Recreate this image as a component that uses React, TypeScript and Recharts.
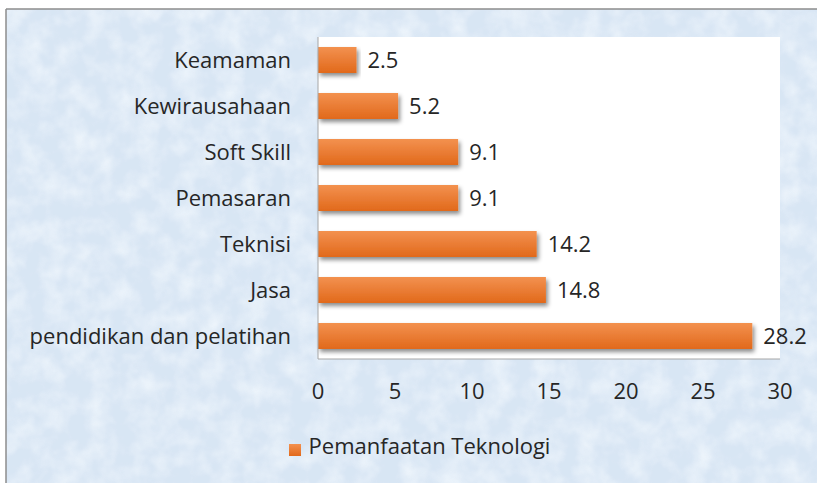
import { Bar, BarChart, CartesianGrid, LabelList, Legend, XAxis, YAxis } from "recharts";

const categories = [
  "Keamaman",
  "Kewirausahaan",
  "Soft Skill",
  "Pemasaran",
  "Teknisi",
  "Jasa",
  "pendidikan dan pelatihan",
];
const values = [2.5, 5.2, 9.1, 9.1, 14.2, 14.8, 28.2];
const xTicks = [0, 5, 10, 15, 20, 25, 30];
const seriesName = "Pemanfaatan Teknologi";

const data = categories.map((name, i) => ({ name, value: values[i] }));

const FONT = "'Open Sans', sans-serif";
const TEXT = "#262626";
const FS = 22;

export default function App() {
  return (
    <div style={{ position: "absolute", left: 0, top: 0, width: 817, height: 483, overflow: "hidden", fontFamily: FONT }}>
      <svg width={817} height={483} style={{ position: "absolute", left: 0, top: 0 }}>
        <defs>
          <filter id="paper" x="0" y="0" width="100%" height="100%">
            <feTurbulence type="fractalNoise" baseFrequency="0.045" numOctaves="3" seed="4" />
            <feColorMatrix
              type="matrix"
              values="0 0 0 0 0.88  0 0 0 0 0.93  0 0 0 0 0.98  0 0 0 -1.6 1.05"
            />
          </filter>
        </defs>
        <rect x={0} y={0} width={817} height={483} fill="#fff" />
        <rect x={6} y={9} width={830} height={490} fill="#d8e6f4" />
        <rect x={6} y={9} width={830} height={490} filter="url(#paper)" opacity={0.9} />
        <line x1={6} y1={9} x2={817} y2={9} stroke="#8c8c8c" strokeWidth={1.5} />
        <line x1={6} y1={9} x2={6} y2={483} stroke="#8c8c8c" strokeWidth={1.5} />
      </svg>
      <div style={{ position: "absolute", left: 0, top: 0 }}>
        <BarChart
          width={817}
          height={483}
          data={data}
          layout="vertical"
          margin={{ top: 37, right: 37, bottom: 40, left: 0 }}
          barSize={26}
        >
          <defs>
            <linearGradient id="barFill" x1="0" y1="0" x2="0" y2="1">
              <stop offset="0%" stopColor="#f3914f" />
              <stop offset="100%" stopColor="#e1691b" />
            </linearGradient>
            <filter id="barShadow" x="-5%" y="-30%" width="115%" height="180%">
              <feDropShadow dx={2} dy={3} stdDeviation={2} floodColor="#000" floodOpacity={0.45} />
            </filter>
          </defs>
          <CartesianGrid fill="#ffffff" horizontal={false} vertical={false} />
          <XAxis
            type="number"
            domain={[0, 30]}
            ticks={xTicks}
            tickLine={false}
            axisLine={{ stroke: "#a6a6a6" }}
            tick={{ fill: TEXT, fontSize: FS, fontFamily: FONT }}
            tickMargin={18}
            height={44}
          />
          <YAxis
            type="category"
            dataKey="name"
            width={318}
            tickLine={false}
            axisLine={{ stroke: "#a6a6a6" }}
            tick={{ fill: TEXT, fontSize: FS, fontFamily: FONT }}
            tickMargin={21}
          />
          <Legend
            verticalAlign="bottom"
            align="center"
            height={40}
            iconType="square"
            iconSize={12}
            formatter={(v) => (
              <span style={{ color: TEXT, fontSize: FS, fontFamily: FONT, marginLeft: 4 }}>{v}</span>
            )}
            wrapperStyle={{ left: 0, top: 430, width: 817, paddingLeft: 16 }}
          />
          <Bar
            dataKey="value"
            name={seriesName}
            fill="url(#barFill)"
            filter="url(#barShadow)"
            isAnimationActive={false}
            legendType="square"
          >
            <LabelList
              dataKey="value"
              position="right"
              offset={11}
              fill={TEXT}
              fontSize={FS}
              fontFamily={FONT}
              formatter={(v) => Number(v).toFixed(1)}
            />
          </Bar>
        </BarChart>
      </div>
    </div>
  );
}
